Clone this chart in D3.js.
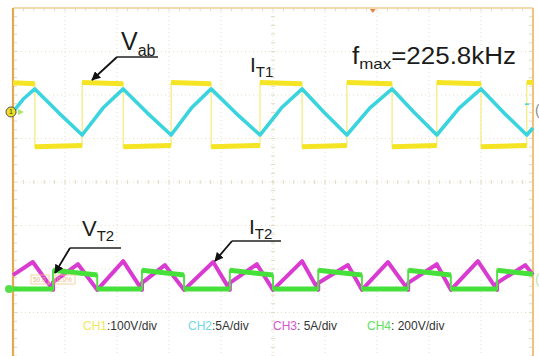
<!DOCTYPE html>
<html lang="en">
<head>
<meta charset="UTF-8">
<title>Scope capture: Vab, IT1, VT2, IT2</title>
<style>
* { margin: 0; padding: 0; box-sizing: border-box; }
body { background: #fff; overflow: hidden; font-family: "Liberation Sans", Arial, sans-serif; }
svg { display: block; }
.grid { stroke: #e6dfcc; stroke-width: 1; stroke-dasharray: 1,3; fill: none; }
.tick { stroke: #e3d9c0; stroke-width: 1; }
.note { fill: #1b1b1b; }
.legend { font-size: 12px; fill: #333; }
</style>
</head>
<body>
<div id="scope"></div>
<script src="https://d3js.org/d3.v7.min.js"></script>
<script>
var vabPts = [
	[0, 2.28], [0.42, 2.26], [0.42, 0.81], [1.33, 0.84], [1.33, 2.29], [2.12, 2.26],
	[2.12, 0.81], [3.04, 0.84], [3.04, 2.29], [3.81, 2.26], [3.81, 0.81], [4.75, 0.84],
	[4.75, 2.29], [5.56, 2.26], [5.56, 0.81], [6.42, 0.84], [6.42, 2.29], [7.29, 2.26],
	[7.29, 0.81], [8.15, 0.84], [8.15, 2.29], [9.0, 2.26], [9.0, 0.81], [9.88, 0.84],
	[9.88, 2.29], [10, 2.29]
];
var it1Pts = [
	[0, 1.61], [0.21, 1.92], [0.42, 2.14], [0.88, 1.59], [1.33, 1.08], [1.73, 1.70],
	[2.12, 2.14], [2.58, 1.59], [3.04, 1.08], [3.43, 1.70], [3.81, 2.14], [4.28, 1.59],
	[4.75, 1.08], [5.16, 1.70], [5.56, 2.14], [5.99, 1.59], [6.42, 1.08], [6.86, 1.70],
	[7.29, 2.14], [7.72, 1.59], [8.15, 1.08], [8.58, 1.70], [9.0, 2.14], [9.44, 1.59],
	[9.88, 1.08], [10, 1.24]
];
var vt2Pts = [
	[0, -2.46], [0.77, -2.46], [0.77, -2.03], [1.62, -2.14], [1.62, -2.46], [2.48, -2.46],
	[2.48, -2.03], [3.29, -2.14], [3.29, -2.46], [4.17, -2.46], [4.17, -2.03], [5.0, -2.14],
	[5.0, -2.46], [5.87, -2.46], [5.87, -2.03], [6.71, -2.14], [6.71, -2.46], [7.60, -2.46],
	[7.60, -2.03], [8.42, -2.14], [8.42, -2.46], [9.31, -2.46], [9.31, -2.03], [10, -2.12]
];
var it2Pts = [
	[0, -2.14], [0.38, -1.84], [0.77, -2.48], [0.77, -2.30], [1.25, -1.89], [1.62, -2.48],
	[2.12, -1.82], [2.48, -2.48], [2.48, -2.32], [2.92, -1.91], [3.29, -2.48], [3.85, -1.84],
	[4.17, -2.48], [4.17, -2.32], [4.69, -1.89], [5.0, -2.48], [5.56, -1.82], [5.87, -2.48],
	[5.87, -2.32], [6.44, -1.91], [6.71, -2.48], [7.21, -1.84], [7.60, -2.48], [7.60, -2.32],
	[8.15, -1.89], [8.42, -2.48], [8.94, -1.82], [9.31, -2.48], [9.31, -2.32], [9.85, -1.91],
	[10, -2.14]
];

var channels = ["CH1", "CH2", "CH3", "CH4"];
var channelScales = [":100V/div", ":5A/div", ": 5A/div", ": 200V/div"];
var channelColors = ["#f2e65a", "#6fd8e6", "#d455d0", "#5fe05a"];

var xDivs = d3.range(0, 11);
var yDivs = d3.range(-4, 5);

(function() {
	var width = 539, height = 356;
	var left = 13, right = 533, top = 8, bottom = 356;

	var svg = d3.select("#scope").append("svg")
		.attr("width", width)
		.attr("height", height);

	var x = d3.scaleLinear().domain([0, 10]).range([left, right]);
	var y = d3.scaleLinear().domain([-4, 4]).range([bottom, top]);

	// graticule
	var grid = svg.append("g");
	grid.selectAll("line.v").data(xDivs.slice(1, -1)).join("line")
		.attr("class", "grid")
		.attr("x1", x).attr("x2", x)
		.attr("y1", top).attr("y2", bottom);
	grid.selectAll("line.h").data(yDivs.slice(1, -1)).join("line")
		.attr("class", "grid")
		.attr("x1", left).attr("x2", right)
		.attr("y1", y).attr("y2", y);

	// minor ticks on centre lines and borders
	var minorX = d3.range(0, 50).map(function(i) { return i / 5; });
	var minorY = d3.range(-20, 20).map(function(i) { return i / 5; });
	var ticks = svg.append("g");
	ticks.selectAll("line.cx").data(minorX).join("line")
		.attr("class", "tick")
		.attr("x1", x).attr("x2", x)
		.attr("y1", y(0) - 2).attr("y2", y(0) + 2);
	ticks.selectAll("line.cy").data(minorY).join("line")
		.attr("class", "tick")
		.attr("y1", y).attr("y2", y)
		.attr("x1", x(5) - 2).attr("x2", x(5) + 2);
	ticks.selectAll("line.ly").data(minorY).join("line")
		.attr("class", "tick")
		.attr("y1", y).attr("y2", y)
		.attr("x1", left).attr("x2", left + 4);
	ticks.selectAll("line.ry").data(minorY).join("line")
		.attr("class", "tick")
		.attr("y1", y).attr("y2", y)
		.attr("x1", right - 4).attr("x2", right);
	ticks.selectAll("line.tx").data(minorX).join("line")
		.attr("class", "tick")
		.attr("x1", x).attr("x2", x)
		.attr("y1", top).attr("y2", top + 3);

	// frame
	svg.append("line").attr("x1", left).attr("x2", right).attr("y1", top).attr("y2", top)
		.attr("stroke", "#f1cf95").attr("stroke-width", 1.5);
	svg.append("line").attr("x1", left).attr("x2", left).attr("y1", top).attr("y2", bottom)
		.attr("stroke", "#e4a94f").attr("stroke-width", 2.2);
	svg.append("line").attr("x1", right).attr("x2", right).attr("y1", top).attr("y2", bottom)
		.attr("stroke", "#f0c27c").attr("stroke-width", 2);

	// trigger position marker
	svg.append("path")
		.attr("d", "M" + (x(6.92) - 3) + "," + (top + 1) + "h6l-3,4z")
		.attr("fill", "#e8844a");

	var line = d3.line().x(function(d) { return x(d[0]); }).y(function(d) { return y(d[1]); });

	function flatSegments(pts) {
		var segs = [];
		for (var i = 1; i < pts.length; i++) {
			if (pts[i][0] !== pts[i - 1][0]) segs.push([pts[i - 1], pts[i]]);
		}
		return segs;
	}

	function drawSquare(pts, color, thin, thick, edgeColor) {
		var g = svg.append("g");
		g.append("path").attr("d", line(pts))
			.attr("fill", "none").attr("stroke", edgeColor).attr("stroke-width", thin);
		g.selectAll("path.seg").data(flatSegments(pts)).join("path")
			.attr("d", line)
			.attr("fill", "none").attr("stroke", color)
			.attr("stroke-width", thick).attr("stroke-linecap", "butt");
	}

	// bottom pair: IT2 under VT2
	svg.append("path").attr("d", line(it2Pts))
		.attr("fill", "none").attr("stroke", "#d93bd0")
		.attr("stroke-width", 4).attr("stroke-linejoin", "round");
	drawSquare(vt2Pts, "#45e03a", 2, 5, "#55e04a");

	// top pair: Vab under IT1
	drawSquare(vabPts, "#f4e424", 1.2, 5, "#f4ea7a");
	svg.append("path").attr("d", line(it1Pts))
		.attr("fill", "none").attr("stroke", "#3ad4df")
		.attr("stroke-width", 3.6).attr("stroke-linejoin", "round");

	// channel markers at the edges
	svg.append("path")
		.attr("d", "M" + (left + 5) + "," + (y(1.61) - 3) + "l6,3l-6,3z")
		.attr("fill", "#a9e86a");
	svg.append("circle").attr("cx", left - 2).attr("cy", y(1.61)).attr("r", 5)
		.attr("fill", "#f0e020").attr("stroke", "#555").attr("stroke-width", 1);
	svg.append("text").attr("x", left - 2).attr("y", y(1.61) + 2.5)
		.attr("text-anchor", "middle").attr("font-size", 7).attr("fill", "#333").text("1");
	svg.append("circle").attr("cx", left - 4).attr("cy", y(-2.46)).attr("r", 4)
		.attr("fill", "#55e04a");
	svg.append("line").attr("x1", right - 8).attr("x2", right - 4)
		.attr("y1", y(1.79)).attr("y2", y(1.79))
		.attr("stroke", "#3ad4df").attr("stroke-width", 1.5);
	svg.append("text").attr("x", right + 2).attr("y", y(1.55))
		.attr("font-size", 14).attr("fill", "#888").text("(");
	svg.append("text").attr("x", right + 2).attr("y", y(-2.35))
		.attr("font-size", 14).attr("fill", "#bfe8b0").text("(");

	// cursor readout boxes
	[[31, 18, "50.0"], [55, 20, "0.0%"]].forEach(function(b) {
		svg.append("rect").attr("x", b[0]).attr("y", 275).attr("width", b[1]).attr("height", 9)
			.attr("fill", "none").attr("stroke", "#f2c98a").attr("stroke-width", 0.8);
		svg.append("text").attr("x", b[0] + 2).attr("y", 282)
			.attr("font-size", 6.5).attr("fill", "#e8b77a").text(b[2]);
	});

	// annotations
	var defs = svg.append("defs");
	defs.append("marker").attr("id", "arrow")
		.attr("viewBox", "0 -5 10 10").attr("refX", 9).attr("refY", 0)
		.attr("markerWidth", 5).attr("markerHeight", 5).attr("orient", "auto")
		.append("path").attr("d", "M0,-5L10,0L0,5z").attr("fill", "#111");

	function label(xp, yp, main, sub, size, subSize) {
		var t = svg.append("text").attr("class", "note").attr("x", xp).attr("y", yp)
			.attr("font-size", size);
		t.append("tspan").text(main);
		t.append("tspan").attr("font-size", subSize).attr("dy", size * 0.22).text(sub);
		return t;
	}

	function pointer(x0, x1, yLine, tipX, tipY) {
		svg.append("line").attr("x1", x0).attr("x2", x1).attr("y1", yLine).attr("y2", yLine)
			.attr("stroke", "#222").attr("stroke-width", 1.3);
		svg.append("line").attr("x1", x0).attr("y1", yLine).attr("x2", tipX).attr("y2", tipY)
			.attr("stroke", "#111").attr("stroke-width", 1.8).attr("marker-end", "url(#arrow)");
	}

	label(121, 50, "V", "ab", 25, 16);
	pointer(117, 158, 57, 92, 80);

	label(250, 72, "I", "T1", 21, 15);

	var f = label(352, 64, "f", "max", 23, 15);
	f.append("tspan").attr("font-size", 23).attr("dy", -23 * 0.22).text("=225.8kHz");
	f.attr("textLength", 164).attr("lengthAdjust", "spacingAndGlyphs");

	label(82, 236, "V", "T2", 22, 15);
	pointer(70, 121, 248, 55, 273);

	label(249, 234, "I", "T2", 21, 15);
	pointer(232, 281, 241, 215, 261);

	// channel legend
	var legendX = [83, 188, 273, 367];
	var lg = svg.append("g").attr("class", "legend");
	channels.forEach(function(c, i) {
		var t = lg.append("text").attr("x", legendX[i]).attr("y", 330);
		t.append("tspan").attr("fill", channelColors[i]).text(c);
		t.append("tspan").text(channelScales[i]);
	});
})();
</script>
</body>
</html>
